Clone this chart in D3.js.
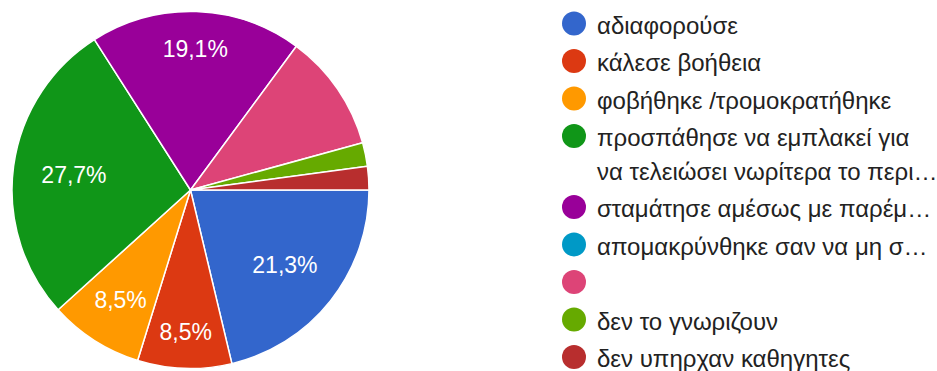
<!DOCTYPE html>
<html>
<head>
<meta charset="utf-8">
<script src="https://cdn.jsdelivr.net/npm/d3@7"></script>
<style>
  html, body { margin: 0; padding: 0; background: #fff; }
  svg { display: block; }
</style>
</head>
<body>
<svg id="chart" width="937" height="371"></svg>
<script>
// Answers and their counts (47 responses)
const categories = [
  "αδιαφορούσε",
  "κάλεσε βοήθεια",
  "φοβήθηκε /τρομοκρατήθηκε",
  ["προσπάθησε να εμπλακεί για", "να τελειώσει νωρίτερα το περι…"],
  "σταμάτησε αμέσως με παρέμ…",
  "απομακρύνθηκε σαν να μη σ…",
  "",
  "δεν το γνωριζουν",
  "δεν υπηρχαν καθηγητες"
];
const counts = [10, 4, 4, 13, 9, 0, 5, 1, 1];
const colors = ["#3366cc", "#dc3912", "#ff9900", "#109618", "#990099",
                "#0099c6", "#dd4477", "#66aa00", "#b82e2e"];

const svg = d3.select("#chart");
const cx = 190.5, cy = 190, radius = 178.5;
const labelReach = 151;

const total = d3.sum(counts);
const data = categories.map((c, i) => ({
  lines: Array.isArray(c) ? c : [c],
  hasName: (Array.isArray(c) ? c.join("") : c) !== "",
  value: counts[i],
  color: colors[i]
}));

const pie = d3.pie()
  .value(d => d.value)
  .sort(null)
  .startAngle(Math.PI / 2)
  .endAngle(Math.PI / 2 + 2 * Math.PI);

const arc = d3.arc().innerRadius(0).outerRadius(radius);
const arcs = pie(data);

const g = svg.append("g").attr("transform", `translate(${cx},${cy})`);

g.selectAll("path.slice")
  .data(arcs.filter(a => a.data.value > 0))
  .join("path")
  .attr("class", "slice")
  .attr("d", arc)
  .attr("fill", a => a.data.color)
  .attr("stroke", "#fff")
  .attr("stroke-width", 1.5)
  .attr("stroke-linejoin", "round");

const fmt = v => (Math.round(v * 1000) / 10).toFixed(1).replace(".", ",") + "%";

// Percentage labels: pushed outwards along the slice bisector until the
// text box reaches a fixed distance from the centre.
const labelled = arcs.filter(a => a.data.hasName && a.data.value / total >= 0.05);
const labels = g.selectAll("text.pct")
  .data(labelled)
  .join("text")
  .attr("class", "pct")
  .attr("text-anchor", "middle")
  .attr("font-family", "'Liberation Sans', Arial, sans-serif")
  .attr("font-size", 23)
  .attr("fill", "#fff")
  .text(a => fmt(a.data.value / total));

labels.each(function(a) {
  const t = d3.select(this);
  const bb = this.getBBox();
  const mid = (a.startAngle + a.endAngle) / 2;
  const ux = Math.sin(mid), uy = -Math.cos(mid);
  const hw = bb.width / 2, hh = 16.5 / 2;
  const support = hw * Math.abs(ux) + hh * Math.abs(uy);
  const d = labelReach - support;
  const x = ux * d, y = uy * d;
  // baseline sits half a cap height below the box centre
  t.attr("x", x).attr("y", y + hh);
});

// Legend
const legend = svg.append("g").attr("class", "legend");
const lx = 574, tx = 597, lineH = 33.5, gap = 4;
let yTop = 11;
data.forEach(d => {
  const item = legend.append("g");
  const cyItem = yTop + 12.5;
  item.append("circle")
    .attr("cx", lx).attr("cy", cyItem).attr("r", 12)
    .attr("fill", d.color);
  const text = item.append("text")
    .attr("font-family", "'Liberation Sans', Arial, sans-serif")
    .attr("font-size", 24)
    .attr("fill", "#222");
  d.lines.forEach((ln, j) => {
    text.append("tspan")
      .attr("x", tx)
      .attr("y", cyItem + 10 + j * lineH)
      .text(ln);
  });
  yTop += d.lines.length * lineH + gap;
});
</script>
</body>
</html>
